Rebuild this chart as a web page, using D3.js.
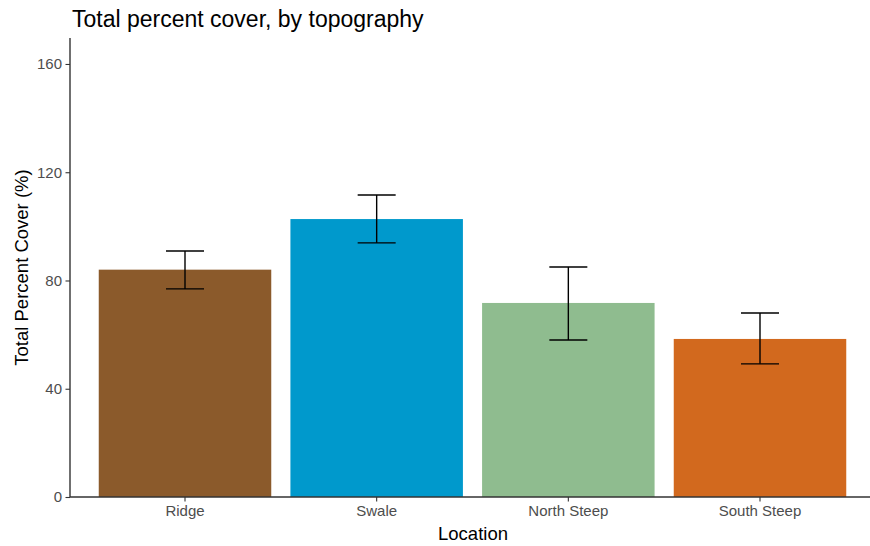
<!DOCTYPE html>
<html>
<head>
<meta charset="utf-8">
<script src="https://cdn.jsdelivr.net/npm/d3@7"></script>
<style>
  body { margin: 0; background: #fff; }
  text { font-family: "Liberation Sans", Arial, sans-serif; }
</style>
</head>
<body>
<svg id="chart" width="870" height="546"></svg>
<script>
const categories = ["Ridge", "Swale", "North Steep", "South Steep"];
const means = [84, 102.7, 71.7, 58.4];
const lowers = [76.9, 93.9, 58.0, 49.2];
const uppers = [90.9, 111.6, 85.0, 68.0];
const colors = ["#8B5A2B", "#0099CC", "#8FBC8F", "#D2691E"];
const yTicks = [0, 40, 80, 120, 160];

(function () {
const svg = d3.select("#chart");
const mLeft = 70, mRight = 875, mTop = 38, mBottom = 497;

const x = d3.scaleBand().domain(categories).range([mLeft, mRight])
  .paddingInner(0.1).paddingOuter(0.15);
const y = d3.scaleLinear().domain([0, 169.6]).range([mBottom, mTop]);

const data = categories.map((c, i) => ({c, m: means[i], lo: lowers[i], hi: uppers[i], col: colors[i]}));

svg.append("g").selectAll("rect").data(data).enter().append("rect")
  .attr("x", d => x(d.c))
  .attr("width", x.bandwidth())
  .attr("y", d => y(d.m))
  .attr("height", d => y(0) - y(d.m))
  .attr("fill", d => d.col);

const capW = 38;
const eb = svg.append("g").attr("stroke", "#000").attr("stroke-width", 1.4).attr("fill", "none");
data.forEach(d => {
  const cx = x(d.c) + x.bandwidth() / 2;
  eb.append("line").attr("x1", cx).attr("x2", cx).attr("y1", y(d.lo)).attr("y2", y(d.hi));
  eb.append("line").attr("x1", cx - capW/2).attr("x2", cx + capW/2).attr("y1", y(d.lo)).attr("y2", y(d.lo));
  eb.append("line").attr("x1", cx - capW/2).attr("x2", cx + capW/2).attr("y1", y(d.hi)).attr("y2", y(d.hi));
});

const yAxis = svg.append("g").attr("transform", `translate(${mLeft},0)`)
  .call(d3.axisLeft(y).tickValues(yTicks).tickSize(4.5).tickPadding(3.5).tickSizeOuter(0));
const xAxis = svg.append("g").attr("transform", `translate(0,${mBottom})`)
  .call(d3.axisBottom(x).tickSize(4.5).tickPadding(4).tickSizeOuter(0));

[yAxis, xAxis].forEach(g => {
  g.select(".domain").attr("stroke", "#333").attr("stroke-width", 1.4);
  g.selectAll(".tick line").attr("stroke", "#333").attr("stroke-width", 1.1);
  g.selectAll(".tick text").attr("fill", "#4D4D4D").style("font-size", "15px");
});
yAxis.select(".domain").attr("d", `M0,${mTop}V${mBottom}`);
xAxis.select(".domain").attr("d", `M${mLeft},0H${mRight}`);

svg.append("text").attr("x", 72).attr("y", 27)
  .style("font-size", "23px").attr("fill", "#000")
  .text("Total percent cover, by topography");

svg.append("text").attr("x", 473).attr("y", 540)
  .attr("text-anchor", "middle").style("font-size", "18.5px").attr("fill", "#000")
  .text("Location");

svg.append("text").attr("transform", `translate(28,${(mTop + mBottom) / 2}) rotate(-90)`)
  .attr("text-anchor", "middle").style("font-size", "18.5px").attr("fill", "#000")
  .text("Total Percent Cover (%)");
})();
</script>
</body>
</html>
